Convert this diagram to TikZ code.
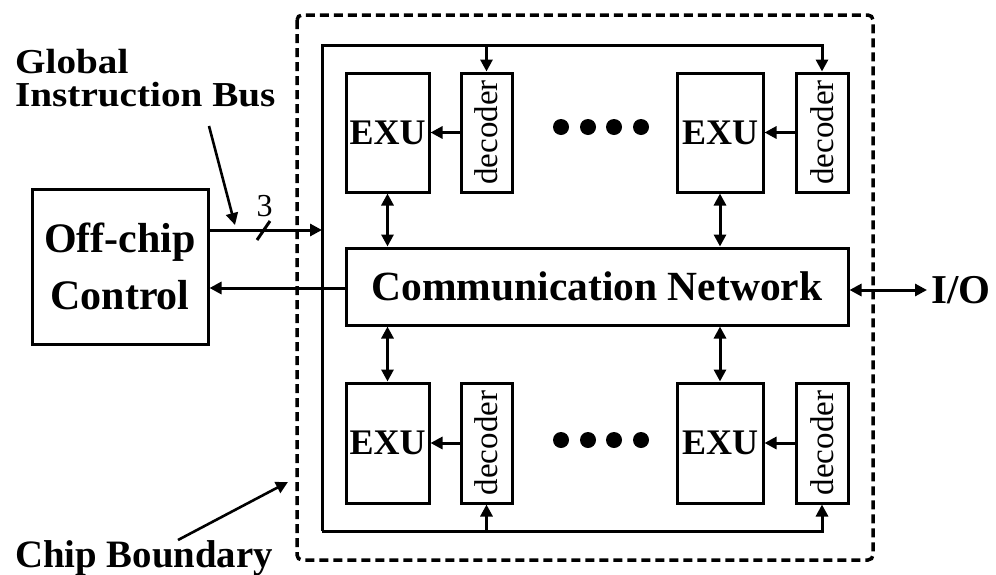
\documentclass[tikz,border=0pt]{standalone}
\usepackage{fontspec}
\usepackage{graphicx}
\setmainfont{Liberation Serif}
\newfontfamily\widelabel[FakeStretch=1.12]{Liberation Serif}
\usetikzlibrary{arrows.meta}
\begin{document}
\begin{tikzpicture}[x=1pt,y=-1pt,
  blk/.style={draw, line width=3pt, rectangle, inner sep=0pt},
  exu/.style={blk, minimum width=83pt, minimum height=119pt,
              font=\fontsize{36}{40}\selectfont\bfseries},
  dec/.style={blk, minimum width=51pt, minimum height=119pt,
              font=\fontsize{33}{36}\selectfont},
  wire/.style={line width=3pt},
  tip/.style={-{Triangle[length=12pt,width=12pt]}},
  both/.style={{Triangle[length=12pt,width=12pt]}-{Triangle[length=12pt,width=12pt]}},
  lbl/.style={inner sep=0pt, font=\widelabel\fontsize{35}{38}\selectfont\bfseries}
]
\useasboundingbox (0,0) rectangle (996,574);

% chip boundary
\draw[line width=3.5pt, dash pattern=on 9pt off 5pt, rounded corners=5pt]
  (297,15) rectangle (873,560);

% execution units and decoders
\node[exu] (e1) at (387.5,132.5) {EXU};
\node[dec] (d1) at (486.5,132.5) {\rotatebox{90}{decoder}};
\node[exu, minimum width=86pt] (e2) at (720,132.5) {EXU};
\node[dec, minimum width=52pt] (d2) at (822,132.5) {\rotatebox{90}{decoder}};
\node[exu, minimum height=120pt] (e3) at (387.5,443) {EXU};
\node[dec, minimum height=120pt] (d3) at (486.5,443) {\rotatebox{90}{decoder}};
\node[exu, minimum width=86pt, minimum height=120pt] (e4) at (720,443) {EXU};
\node[dec, minimum width=52pt, minimum height=120pt] (d4) at (822,443) {\rotatebox{90}{decoder}};

% communication network
\node[blk, minimum width=502pt, minimum height=77pt,
      font=\fontsize{41.5}{45}\selectfont\bfseries] (net) at (597,286.5) {Communication Network};

% off-chip control
\node[blk, minimum width=176pt, minimum height=155pt, align=center,
      font=\fontsize{42}{57}\selectfont\bfseries] (ctl) at (120,266.5) {Off-chip\\Control};

% ellipsis dots
\foreach \xx in {561,588,614,641} {
  \fill (\xx,127) circle[radius=8pt];
  \fill (\xx,440) circle[radius=8pt];
}

% global instruction bus loop
\coordinate (bTL) at (322,45);
\coordinate (bBL) at (322,531);
\draw[wire, tip] (bBL) -- (bTL) -| (d2.north);
\draw[wire, tip] (bBL) -| (d4.south);
\draw[wire, tip] (d1.north |- bTL) -- (d1.north);
\draw[wire, tip] (d3.south |- bBL) -- (d3.south);

% decoder to EXU
\draw[wire, tip] (d1.west) -- (e1.east);
\draw[wire, tip] (d2.west) -- (e2.east);
\draw[wire, tip] (d3.west) -- (e3.east);
\draw[wire, tip] (d4.west) -- (e4.east);

% EXU <-> network
\draw[wire, both] (e1.south) -- (e1.south |- net.north);
\draw[wire, both] (e2.south) -- (e2.south |- net.north);
\draw[wire, both] (e3.north) -- (e3.north |- net.south);
\draw[wire, both] (e4.north) -- (e4.north |- net.south);

% control <-> chip
\coordinate (inY) at (0,230);
\coordinate (retY) at (0,288);
\draw[wire, tip] (ctl.east |- inY) -- (bTL |- inY);
\draw[wire, tip] (net.west |- retY) -- (ctl.east |- retY);

% bus width mark
\node[inner sep=0pt, font=\fontsize{32}{34}\selectfont] (w3) at (264.5,206) {3};
\coordinate (s1) at (257,240);
\coordinate (s2) at (270,221);
\draw[line width=3pt] (s1) -- (s2);

% I/O
\node[inner sep=0pt, anchor=west, font=\fontsize{41}{45}\selectfont\bfseries] (io) at (931,290) {I/O};
\draw[wire, both] (net.east |- io.west) -- ([xshift=-4pt]io.west);

% labels with pointers
\node[lbl, anchor=base west] (g1) at (15,73) {Global};
\node[lbl, anchor=base west] (g2) at (15,106) {Instruction Bus};
\coordinate (gA) at (209,126);
\coordinate (gB) at (235,225);
\draw[line width=2.6pt, tip] (gA) -- (gB);

\node[inner sep=0pt, anchor=base west, font=\fontsize{38.8}{42}\selectfont\bfseries] (cb) at (15,567) {Chip Boundary};
\coordinate (cA) at (178,540);
\coordinate (cB) at (288,482);
\draw[line width=2.6pt, tip] (cA) -- (cB);
\end{tikzpicture}
\end{document}
